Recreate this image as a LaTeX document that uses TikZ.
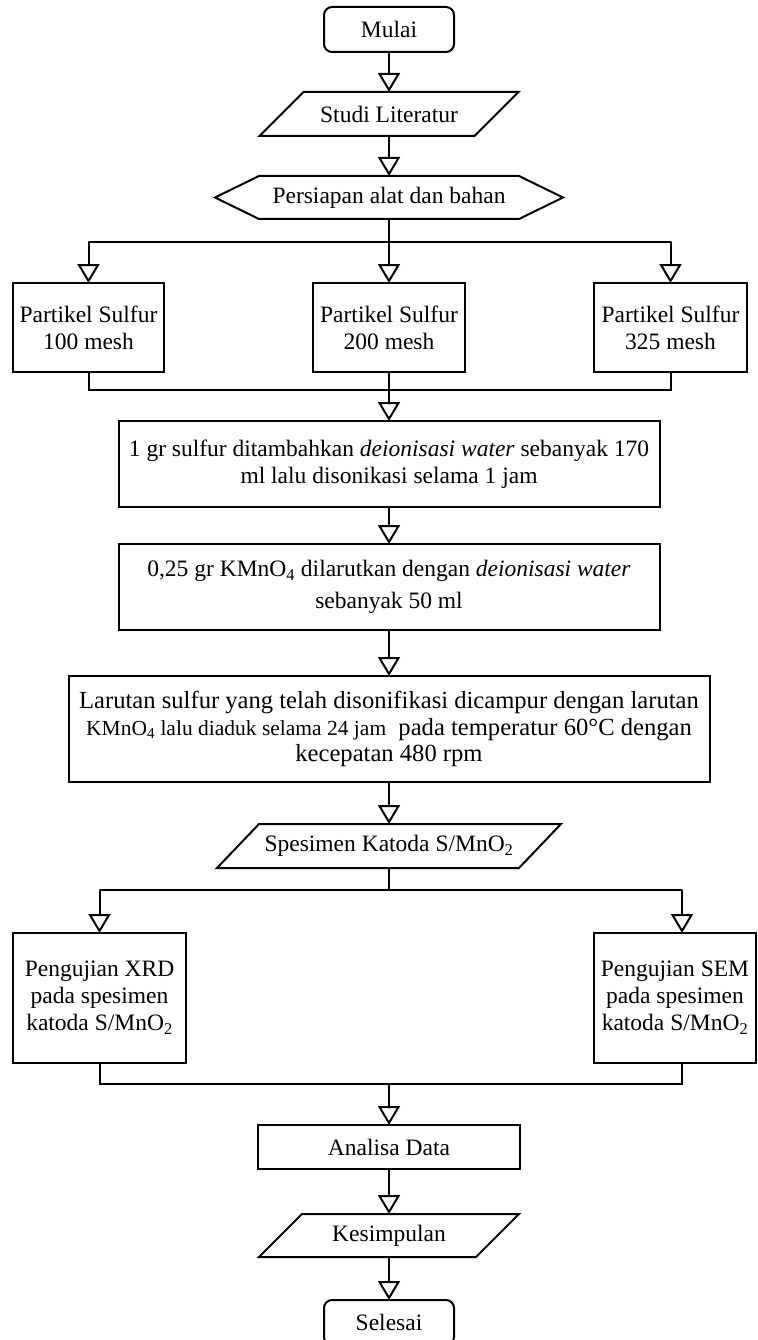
\documentclass[tikz,border=0pt]{standalone}
\usepackage{fontspec}
\setmainfont{Liberation Serif}
\usetikzlibrary{arrows.meta,calc}
\begin{document}
\begin{tikzpicture}[x=1pt,y=-1pt,line width=2pt,
  every node/.style={font=\fontsize{23.5}{27}\selectfont, outer sep=0pt, inner sep=2pt, align=center},
  box/.style={draw, rectangle, line width=2pt, minimum width=#1},
  term/.style={draw, rectangle, rounded corners=8pt, line width=2pt, minimum width=130pt, minimum height=45pt},
  frame/.style={rectangle, draw=none, minimum width=#1},
  outline/.style={draw, line width=2pt, line join=miter},
  arr/.style={-{Triangle[length=19pt,width=22pt,fill=white]}, line join=round}
]
\useasboundingbox (0,0) rectangle (757,1340);
\fill[white] (0,0) rectangle (757,1340);

% nodes
\node[term] (mulai) at (389,29.5) {Mulai};

\node[frame=259pt, minimum height=44pt] (studi) at (389,114) {Studi Literatur};
\draw[outline] (studi.south west) -- ($(studi.north west)+(44,0)$) -- (studi.north east) -- ($(studi.south east)+(-44,0)$) -- cycle;

\node[frame=348pt, minimum height=43pt] (persiapan) at (389,197.5) {Persiapan alat dan bahan};
\draw[outline] (persiapan.west) -- ($(persiapan.north west)+(44,0)$) -- ($(persiapan.north east)+(-44,0)$) -- (persiapan.east) -- ($(persiapan.south east)+(-44,0)$) -- ($(persiapan.south west)+(44,0)$) -- cycle;

\node[box=151pt, minimum height=89pt] (p1) at (88.5,327.5) {Partikel Sulfur\\100 mesh};
\node[box=152pt, minimum height=89pt] (p2) at (389,327.5) {Partikel Sulfur\\200 mesh};
\node[box=153pt, minimum height=89pt] (p3) at (670.5,327.5) {Partikel Sulfur\\325 mesh};

\node[box=541pt, minimum height=86pt] (b1) at (389,464) {1 gr sulfur ditambahkan \textit{deionisasi water} sebanyak 170\\ml lalu disonikasi selama 1 jam};
\node[box=541pt, minimum height=86pt] (b2) at (389,587) {0,25 gr KMnO\textsubscript{4} dilarutkan dengan \textit{deionisasi water}\\[5pt]sebanyak 50 ml};
\node[box=641pt, minimum height=106pt, font=\fontsize{24.6}{26.5}\selectfont] (b3) at (389,729) {Larutan sulfur yang telah disonifikasi dicampur dengan larutan\\{\fontsize{21.5}{26.5}\selectfont KMnO\textsubscript{4} lalu diaduk selama 24 jam}\ \ pada temperatur 60°C dengan\\kecepatan 480 rpm};

\node[frame=344pt, minimum height=44pt] (spes) at (389,846) {Spesimen Katoda S/MnO\textsubscript{2}};
\draw[outline] (spes.south west) -- ($(spes.north west)+(42,0)$) -- (spes.north east) -- ($(spes.south east)+(-42,0)$) -- cycle;

\node[box=173pt, minimum height=130pt] (xrd) at (99.5,998) {Pengujian XRD\\pada spesimen\\katoda S/MnO\textsubscript{2}};
\node[box=162pt, minimum height=130pt] (sem) at (675,998) {Pengujian SEM\\pada spesimen\\katoda S/MnO\textsubscript{2}};

\node[box=262pt, minimum height=44pt] (analisa) at (389,1147) {Analisa Data};

\node[frame=260pt, minimum height=43pt] (kes) at (389,1235.5) {Kesimpulan};
\draw[outline] (kes.south west) -- ($(kes.north west)+(43,0)$) -- (kes.north east) -- ($(kes.south east)+(-43,0)$) -- cycle;

\node[term] (selesai) at (389,1322.5) {Selesai};

% junctions
\coordinate (j1) at (389,242);
\coordinate (j2) at (389,390);
\coordinate (j3) at (389,890);
\coordinate (j3r) at (682,890);
\coordinate (j4) at (389,1084);
\coordinate (j4r) at (682,1084);

% connectors
\draw[arr] (mulai.south) -- (studi.north);
\draw[arr] (studi.south) -- (persiapan.north);
\draw (persiapan.south) -- (j1);
\draw[arr] (j1) -| (p1.north);
\draw[arr] (j1) -- (p2.north);
\draw[arr] (j1) -| (p3.north);
\draw (p1.south) |- (j2);
\draw (p3.south) |- (j2);
\draw (p2.south) -- (j2);
\draw[arr] (j2) -- (b1.north);
\draw[arr] (b1.south) -- (b2.north);
\draw[arr] (b2.south) -- (b3.north);
\draw[arr] (b3.south) -- (spes.north);
\draw (spes.south) -- (j3);
\draw[arr] (j3) -| (xrd.north);
\draw[arr] (j3) -- (j3r) -- (j3r |- sem.north);
\draw (xrd.south) |- (j4);
\draw (j4r |- sem.south) -- (j4r) -- (j4);
\draw[arr] (j4) -- (analisa.north);
\draw[arr] (analisa.south) -- (kes.north);
\draw[arr] (kes.south) -- (selesai.north);
\end{tikzpicture}
\end{document}
